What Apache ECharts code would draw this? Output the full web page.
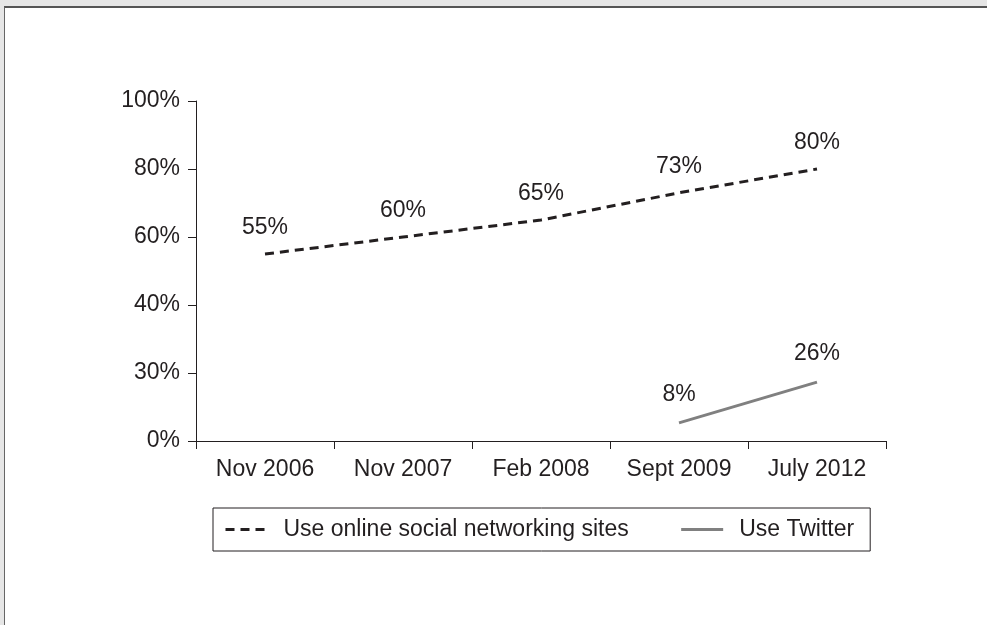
<!DOCTYPE html>
<html>
<head>
<meta charset="utf-8">
<script src="https://cdn.jsdelivr.net/npm/echarts@6/dist/echarts.min.js"></script>
<style>
  html, body { margin: 0; padding: 0; width: 987px; height: 625px; overflow: hidden; background: #e6e6e6; }
  #frame { position: absolute; left: 4px; top: 6px; width: 983px; height: 619px; background: #ffffff;
           border-left: 1px solid #666; border-top: 2px solid #555; box-sizing: border-box; }
  #chart { position: absolute; left: 0; top: 0; width: 987px; height: 625px; }
</style>
</head>
<body>
<div id="frame"></div>
<div id="chart"></div>
<script>
// ---- Data ----
const categories = ['Nov 2006', 'Nov 2007', 'Feb 2008', 'Sept 2009', 'July 2012'];
const socialValues = [55, 60, 65, 73, 80];
const twitterValues = [null, null, null, 8, 26];
const yTickValues = [0, 30, 40, 60, 80, 100];
const yTickLabels = ['0%', '30%', '40%', '60%', '80%', '100%'];
const seriesNames = ['Use online social networking sites', 'Use Twitter'];

// The reference y axis places its (unevenly valued) ticks at even spacing;
// map each value onto that tick scale piecewise.
function toAxis(v) {
  for (let i = 0; i < yTickValues.length - 1; i++) {
    const a = yTickValues[i], b = yTickValues[i + 1];
    if (v >= a && v <= b) return i + (v - a) / (b - a);
  }
  return yTickValues.length - 1;
}
function build(vals) {
  return vals.map(v => v == null ? '-' : { value: toAxis(v), raw: v });
}

const FONT = "'Liberation Sans', Arial, Helvetica, sans-serif";
const TXT = '#231f20';
const HIDDEN = { color: 'rgba(0,0,0,0)', borderColor: 'rgba(0,0,0,0)', borderWidth: 0 };

const chart = echarts.init(document.getElementById('chart'), null, { renderer: 'canvas' });
chart.setOption({
  animation: false,
  backgroundColor: 'transparent',
  textStyle: { fontFamily: FONT },
  grid: { left: 196, right: 101, top: 101, bottom: 184, containLabel: false },
  xAxis: {
    type: 'category',
    data: categories,
    boundaryGap: true,
    axisLine: { lineStyle: { color: TXT, width: 1 } },
    axisTick: { show: true, length: 8, inside: false, lineStyle: { color: TXT } },
    axisLabel: { color: TXT, fontSize: 23, fontFamily: FONT, margin: 17 },
    splitLine: { show: false }
  },
  yAxis: {
    type: 'value',
    min: 0, max: yTickValues.length - 1, interval: 1,
    axisLine: { show: true, lineStyle: { color: TXT, width: 1 } },
    axisTick: { show: true, length: 8, lineStyle: { color: TXT } },
    axisLabel: { color: TXT, fontSize: 23, fontFamily: FONT, margin: 16,
                 formatter: v => yTickLabels[Math.round(v)] },
    splitLine: { show: false }
  },
  legend: {
    left: 213, top: 508,
    padding: [10, 16, 10, 11],
    borderColor: TXT, borderWidth: 1,
    itemWidth: 42, itemHeight: 14, itemGap: 51,
    lineStyle: { width: 3 },
    textStyle: { color: TXT, fontSize: 23, fontFamily: FONT, padding: [0, 0, 0, 11] },
    data: seriesNames
  },
  series: [
    {
      name: seriesNames[0],
      type: 'line',
      data: build(socialValues),
      symbol: 'circle',
      symbolSize: 1,
      showSymbol: true,
      lineStyle: { color: TXT, width: 3, type: [9, 6] },
      itemStyle: HIDDEN,
      label: { show: true, position: 'top', distance: 14, color: TXT, fontSize: 23, fontFamily: FONT,
               formatter: p => p.data.raw + '%' }
    },
    {
      name: seriesNames[1],
      type: 'line',
      data: build(twitterValues),
      symbol: 'circle',
      symbolSize: 1,
      showSymbol: true,
      lineStyle: { color: '#808080', width: 3, type: 'solid' },
      itemStyle: HIDDEN,
      label: { show: true, position: 'top', distance: 16, color: TXT, fontSize: 23, fontFamily: FONT,
               formatter: p => p.data.raw + '%' }
    }
  ]
});
</script>
</body>
</html>
